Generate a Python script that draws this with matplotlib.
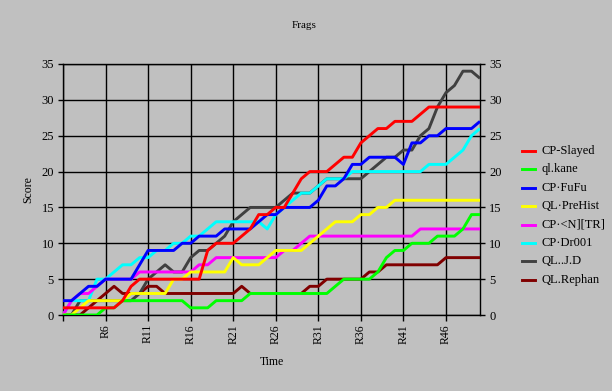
import numpy as np
import matplotlib
matplotlib.use("Agg")
import matplotlib.pyplot as plt
from matplotlib.lines import Line2D

plt.rcParams['font.family'] = ['Liberation Serif', 'DejaVu Serif']

nan = np.nan
rounds = list(range(1, 51))
tick_rounds = [1, 6, 11, 16, 21, 26, 31, 36, 41, 46]
tick_labels = ['', 'R6', 'R11', 'R16', 'R21', 'R26', 'R31', 'R36', 'R41', 'R46']

names = ['CP-Slayed', 'ql.kane', 'CP·FuFu', 'QL·PreHist', 'CP·<N][TR]',
         'CP·Dr001', 'QL..J.D', 'QL.Rephan']
colors = ['#ff0000', '#00ff00', '#0000ff', '#ffff00', '#ff00ff',
          '#00ffff', '#404040', '#800000']

slayed = [1, 1, 1, 1, 1, 1, 1, 2, 4, 5,
          5, 5, 5, 5, 5, 5, 5, 9, 10, 10,
          10, 11, 12, 14, 14, 15, 15, 17, 19, 20,
          20, 20, 21, 22, 22, 24, 25, 26, 26, 27,
          27, 27, 28, 29, 29, 29, 29, 29, 29, 29]
kane = [0, 0, 0, 0, 0, 1, 1, 2, 2, 2,
        2, 2, 2, 2, 2, 1, 1, 1, 2, 2,
        2, 2, 3, 3, 3, 3, 3, 3, 3, 3,
        3, 3, 4, 5, 5, 5, 5, 6, 8, 9,
        9, 10, 10, 10, 11, 11, 11, 12, 14, 14]
fufu = [2, 2, 3, 4, 4, 5, 5, 5, 5, 7,
        9, 9, 9, 9, 10, 10, 11, 11, 11, 12,
        12, 12, 12, 13, 14, 14, 15, 15, 15, 15,
        16, 18, 18, 19, 21, 21, 22, 22, 22, 22,
        21, 24, 24, 25, 25, 26, 26, 26, 26, 27]
prehist = [0, 0, 1, 2, 2, 2, 2, 2, 3, 3,
           3, 3, 3, 5, 5, 6, 6, 6, 6, 6,
           8, 7, 7, 7, 8, 9, 9, 9, 9, 10,
           11, 12, 13, 13, 13, 14, 14, 15, 15, 16,
           16, 16, 16, 16, 16, 16, 16, 16, 16, 16]
ntr = [0, 2, 3, 3, 4, 5, 5, 5, 5, 6,
       6, 6, 6, 6, 6, 6, 7, 7, 8, 8,
       8, 8, 8, 8, 8, 8, 9, 9, 10, 11,
       11, 11, 11, 11, 11, 11, 11, 11, 11, 11,
       11, 11, 12, 12, 12, 12, 12, 12, 12, 12]
dr001 = [0, 2, 2, 2, 5, 5, 6, 7, 7, 8,
         8, 9, 9, 10, 10, 11, 11, 12, 13, 13,
         13, 13, 13, 13, 12, 14, 15, 16, 17, 17,
         18, 19, 19, 19, 20, 20, 20, 20, 20, 20,
         20, 20, 20, 21, 21, 21, 22, 23, 25, 26]
jd = [0, 0, 2, 2, 2, 2, 2, 2, 2, 3,
      5, 6, 7, 6, 6, 8, 9, 9, 10, 11,
      13, 14, 15, 15, 15, 15, 16, 17, 17, 17,
      18, 19, 19, 19, 19, 19, 20, 21, 22, 22,
      23, 23, 25, 26, 29, 31, 32, 34, 34, 33]
rephan = [0, 0, 0, 1, 2, 3, 4, 3, 3, 3,
          4, 4, 3, 3, 3, 3, 3, 3, 3, 3,
          3, 4, 3, nan, nan, nan, nan, nan, 3, 4,
          4, 5, 5, 5, 5, 5, 6, 6, 7, 7,
          7, 7, 7, 7, 7, 8, 8, 8, 8, 8]

series = [slayed, kane, fufu, prehist, ntr, dr001, jd, rephan]

W, H = 612, 391
fig = plt.figure(figsize=(W / 100, H / 100), dpi=100, facecolor='#c0c0c0')
ax = fig.add_axes([63 / W, 1 - 315 / H, 417 / W, 251 / H])
ax.set_facecolor('#c0c0c0')

n = len(series)
for i, (vals, c) in enumerate(zip(series, colors)):
    ax.plot(rounds, vals, color=c, lw=2.1, zorder=10 + n - i,
            solid_joinstyle='round', solid_capstyle='butt')

ax.set_xlim(1, 50)
ax.set_ylim(0, 35)
ax.set_yticks(range(0, 36, 5))
ax.set_xticks(tick_rounds)
ax.set_xticklabels(tick_labels, rotation=90)
ax.grid(True, color='black', lw=1)
ax.set_axisbelow(True)
for s in ax.spines.values():
    s.set_color('black')
    s.set_linewidth(1)

ax.tick_params(axis='y', length=3.5, width=1, pad=3, labelsize=9,
               right=True, labelright=True)
ax.tick_params(axis='x', length=4.5, width=1, pad=2, labelsize=8.5)

ax.set_ylabel('Score', fontsize=8.5)
ax.yaxis.set_label_coords(-0.07, 0.5)
ax.set_xlabel('Time', fontsize=8.5)
ax.xaxis.set_label_coords(0.5, -0.163)

fig.text(304.5 / W, 1 - 26 / H, 'Frags', ha='center', va='center', fontsize=8)

# legend on the right
y0, dy = 151, 18.4
for i, (name, c) in enumerate(zip(names, colors)):
    y = 1 - (y0 + i * dy) / H
    fig.add_artist(Line2D([522 / W, 535 / W], [y, y], color=c, lw=2.1))
    fig.text(541 / W, y, name, ha='left', va='center', fontsize=9)

fig.savefig('out.png', dpi=100, facecolor='#c0c0c0')
